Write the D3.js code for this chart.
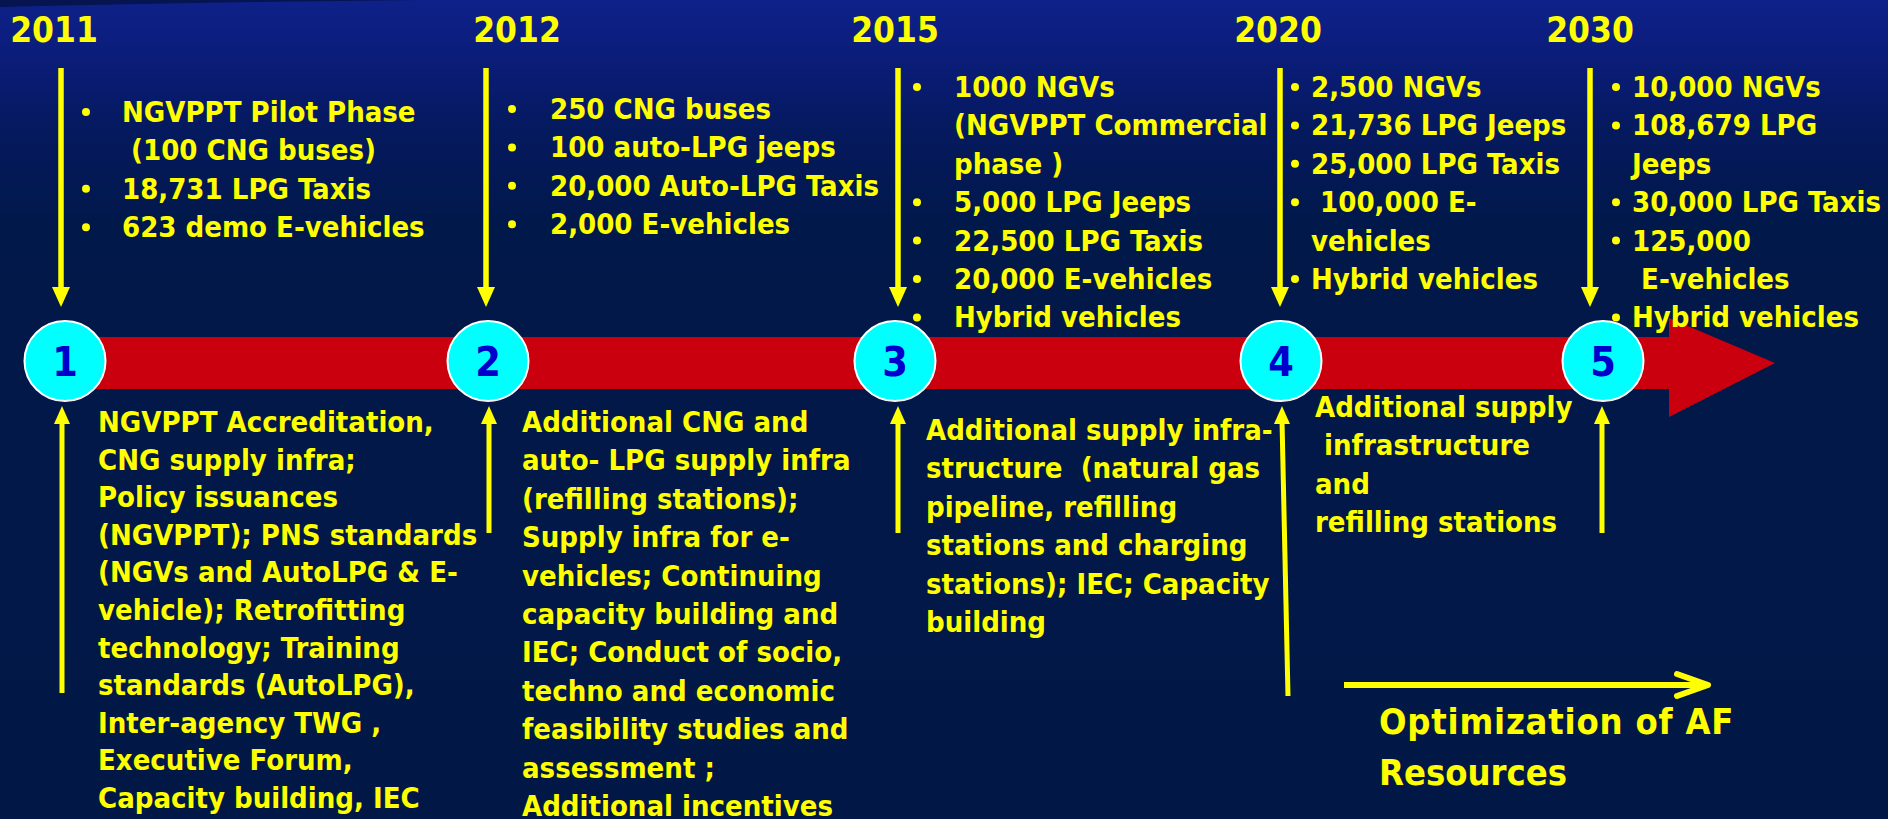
<!DOCTYPE html>
<html>
<head>
<meta charset="utf-8">
<script src="https://cdn.jsdelivr.net/npm/d3@7"></script>
<style>
  html, body { margin: 0; padding: 0; background: #011847; overflow: hidden; }
  svg { display: block; }
  text { font-family: "DejaVu Sans Condensed", "DejaVu Sans", sans-serif; font-stretch: condensed; font-weight: bold; white-space: pre; }
</style>
</head>
<body>
<div id="chart"></div>
<script>
// timeline data
var years = [2011, 2012, 2015, 2020, 2030];
var stepNumbers = ["1", "2", "3", "4", "5"];

// targets above the bar ("• " = new bullet, otherwise continuation line)
var targetLines = [
  ["• NGVPPT Pilot Phase", " (100 CNG buses)", "• 18,731 LPG Taxis", "• 623 demo E-vehicles"],
  ["• 250 CNG buses", "• 100 auto-LPG jeeps", "• 20,000 Auto-LPG Taxis", "• 2,000 E-vehicles"],
  ["• 1000 NGVs", "(NGVPPT Commercial", "phase )", "• 5,000 LPG Jeeps", "• 22,500 LPG Taxis", "• 20,000 E-vehicles", "• Hybrid vehicles"],
  ["• 2,500 NGVs", "• 21,736 LPG Jeeps", "• 25,000 LPG Taxis", "•  100,000 E-", "vehicles", "• Hybrid vehicles"],
  ["• 10,000 NGVs", "• 108,679 LPG", "Jeeps", "• 30,000 LPG Taxis", "• 125,000", " E-vehicles", "• Hybrid vehicles"]
];

// actions below the bar
var actionLines = [
  ["NGVPPT Accreditation,", "CNG supply infra;", "Policy issuances", "(NGVPPT); PNS standards", "(NGVs and AutoLPG & E-",
   "vehicle); Retrofitting", "technology; Training", "standards (AutoLPG),", "Inter-agency TWG ,", "Executive Forum,", "Capacity building, IEC"],
  ["Additional CNG and", "auto- LPG supply infra", "(refilling stations);", "Supply infra for e-", "vehicles; Continuing",
   "capacity building and", "IEC; Conduct of socio,", "techno and economic", "feasibility studies and", "assessment ;", "Additional incentives"],
  ["Additional supply infra-", "structure  (natural gas", "pipeline, refilling", "stations and charging", "stations); IEC; Capacity", "building"],
  ["Additional supply", " infrastructure", "and", "refilling stations"],
  []
];

var footLines = ["Optimization of AF", "Resources"];

// layout offsets per step (relative to the step's x position)
var layout = [
  {year: -11, down: -4,  bullet: 21, text: 57, top0: 122, up: -3, upEnd: 693, slant: 0, act: 33, act0: 432, actH: 37.6},
  {year: 29,  down: -2,  bullet: 24, text: 62, top0: 119, up: 1,  upEnd: 533, slant: 0, act: 34, act0: 432, actH: 38.4},
  {year: 0,   down: 3,   bullet: 22, text: 59, top0: 97,  up: 3,  upEnd: 533, slant: 0, act: 31, act0: 440, actH: 38.4},
  {year: -3,  down: -1,  bullet: 14, text: 30, top0: 97,  up: 1,  upEnd: 696, slant: 6, act: 34, act0: 417, actH: 38.4},
  {year: -13, down: -13, bullet: 13, text: 29, top0: 97,  up: -1, upEnd: 533, slant: 0, act: 0,  act0: 0,   actH: 38.4}
];

var width = 1888, height = 819;
var yellow = "#ffff00";
var lineH = 38.4;

var svg = d3.select("#chart").append("svg")
  .attr("width", width)
  .attr("height", height);

var defs = svg.append("defs");
var grad = defs.append("linearGradient")
  .attr("id", "bg")
  .attr("x1", 0).attr("y1", 0).attr("x2", 0).attr("y2", 1);
grad.append("stop").attr("offset", "0%").attr("stop-color", "#0e2189");
grad.append("stop").attr("offset", "6%").attr("stop-color", "#0b1d7c");
grad.append("stop").attr("offset", "16%").attr("stop-color", "#05195e");
grad.append("stop").attr("offset", "28%").attr("stop-color", "#01184a");
grad.append("stop").attr("offset", "100%").attr("stop-color", "#011847");

svg.append("rect")
  .attr("width", width)
  .attr("height", height)
  .attr("fill", "url(#bg)");

// dark sliver at top-left corner
svg.append("path")
  .attr("d", "M0,0 L420,0 Q200,2 0,7 Z")
  .attr("fill", "#061450");

// x position of each step
var x = d3.scaleLinear()
  .domain(years)
  .range([65, 488, 895, 1281, 1603]);

var barY = d3.scaleLinear().domain([0, 1]).range([337, 389]);
var barMid = (barY(0) + barY(1)) / 2;
var headX = 1669, tipX = 1775;

// red bar with arrow head
svg.append("rect")
  .attr("x", x(years[0]))
  .attr("y", barY(0))
  .attr("width", headX - x(years[0]))
  .attr("height", barY(1) - barY(0))
  .attr("fill", "#cb000f");

svg.append("path")
  .attr("d", d3.line()([[headX, 318], [tipX, barMid], [headX, 417]]) + "Z")
  .attr("fill", "#cb000f");

// arrows: down from the year label, up from the actions
var steps = svg.selectAll("g.step")
  .data(years)
  .enter()
  .append("g")
  .attr("class", "step");

steps.append("line")
  .attr("x1", (d, i) => x(d) + layout[i].down)
  .attr("x2", (d, i) => x(d) + layout[i].down)
  .attr("y1", 68)
  .attr("y2", 290)
  .attr("stroke", yellow)
  .attr("stroke-width", 5.5);

steps.append("path")
  .attr("d", (d, i) => {
    var ax = x(d) + layout[i].down;
    return d3.line()([[ax - 9, 287], [ax + 9, 287], [ax, 307]]) + "Z";
  })
  .attr("fill", yellow);

steps.append("line")
  .attr("x1", (d, i) => x(d) + layout[i].up)
  .attr("x2", (d, i) => x(d) + layout[i].up + layout[i].slant)
  .attr("y1", 420)
  .attr("y2", (d, i) => layout[i].upEnd)
  .attr("stroke", yellow)
  .attr("stroke-width", 5);

steps.append("path")
  .attr("d", (d, i) => {
    var ax = x(d) + layout[i].up;
    return d3.line()([[ax - 8, 424], [ax + 8, 424], [ax, 406]]) + "Z";
  })
  .attr("fill", yellow);

// step circles
steps.append("ellipse")
  .attr("cx", d => x(d))
  .attr("cy", 361)
  .attr("rx", 40.5)
  .attr("ry", 40)
  .attr("fill", "#00ffff")
  .attr("stroke", "#ffffff")
  .attr("stroke-width", 2);

steps.append("text")
  .attr("x", d => x(d))
  .attr("y", 376)
  .attr("text-anchor", "middle")
  .attr("font-size", 41)
  .attr("fill", "#0000cc")
  .text((d, i) => stepNumbers[i]);

// year labels
steps.append("text")
  .attr("x", (d, i) => x(d) + layout[i].year)
  .attr("y", 42)
  .attr("text-anchor", "middle")
  .attr("font-size", 35)
  .attr("fill", yellow)
  .text(d => d);

// targets above the bar, actions below it
steps.each(function(d, i) {
  var g = d3.select(this);
  var L = layout[i];
  targetLines[i].forEach(function(line, j) {
    var yy = L.top0 + j * lineH;
    var bullet = line.indexOf("• ") === 0;
    if (bullet) {
      g.append("circle")
        .attr("cx", x(d) + L.bullet)
        .attr("cy", yy - 10)
        .attr("r", 4)
        .attr("fill", yellow);
    }
    g.append("text")
      .attr("x", x(d) + L.text)
      .attr("y", yy)
      .attr("font-size", 29)
      .attr("fill", yellow)
      .text(bullet ? line.slice(2) : line);
  });
  actionLines[i].forEach(function(line, j) {
    g.append("text")
      .attr("x", x(d) + L.act)
      .attr("y", L.act0 + j * L.actH)
      .attr("font-size", 29)
      .attr("fill", yellow)
      .text(line);
  });
});

// optimization arrow and caption
var foot = svg.append("g");
foot.append("line")
  .attr("x1", 1344).attr("x2", 1706)
  .attr("y1", 685).attr("y2", 685)
  .attr("stroke", yellow)
  .attr("stroke-width", 6);
foot.append("path")
  .attr("d", d3.line()([[1677, 674], [1708, 685], [1677, 696]]))
  .attr("fill", "none")
  .attr("stroke", yellow)
  .attr("stroke-width", 6)
  .attr("stroke-linecap", "round")
  .attr("stroke-linejoin", "round");

foot.selectAll("text")
  .data(footLines)
  .enter()
  .append("text")
  .attr("x", 1379)
  .attr("y", (d, i) => 734 + i * 51)
  .attr("font-size", 36)
  .attr("letter-spacing", (d, i) => i === 0 ? 0.8 : 0)
  .attr("fill", yellow)
  .text(d => d);
</script>
</body>
</html>
